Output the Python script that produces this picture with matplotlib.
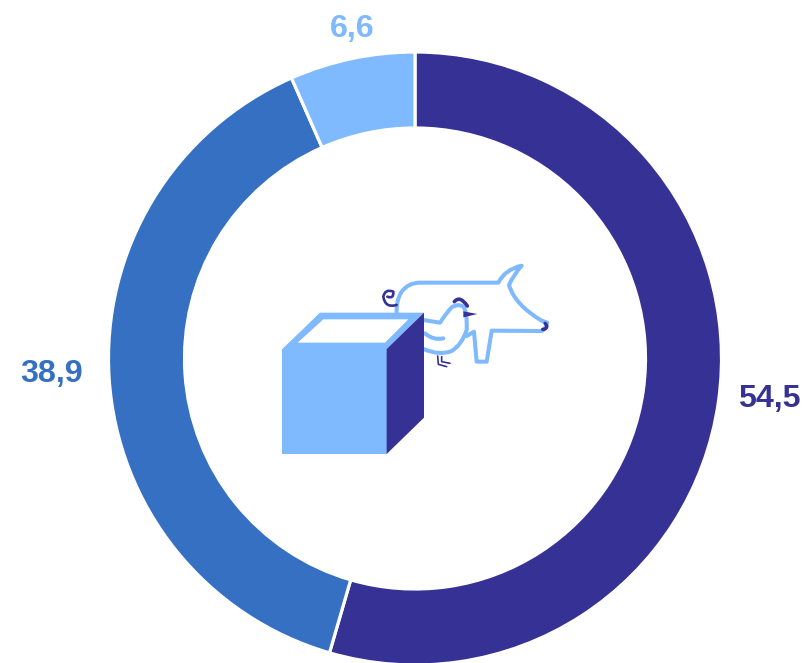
import matplotlib
matplotlib.use("Agg")
import matplotlib.pyplot as plt
from matplotlib.path import Path
from matplotlib.patches import PathPatch, Polygon

W, H = 803, 663
values = [54.5, 38.9, 6.6]
labels = ["54,5", "38,9", "6,6"]
colors = ["#363194", "#3570C2", "#7FB9FF"]
label_xy = [(769, 399), (52, 374), (352, 29)]
CX, CY, R, R_IN = 415, 358.5, 306.5, 230.5
DARK, LIGHT = colors[0], colors[2]

fig = plt.figure(figsize=(W / 100, H / 100), dpi=100, facecolor="white")

# donut
pie_ax = fig.add_axes([(CX - R) / W, 1 - (CY + R) / H, 2 * R / W, 2 * R / H])
pie_ax.pie(values, colors=colors, startangle=90, counterclock=False, radius=1,
           wedgeprops=dict(width=1 - R_IN / R, edgecolor="white", linewidth=2.3),
           normalize=True)
for w in pie_ax.patches:
    w.set_clip_on(False)
pie_ax.set_xlim(-1, 1)
pie_ax.set_ylim(-1, 1)
pie_ax.set_axis_off()

# overlay in pixel coordinates
ax = fig.add_axes([0, 0, 1, 1])
ax.set_xlim(0, W)
ax.set_ylim(H, 0)
ax.set_axis_off()
ax.patch.set_alpha(0)

for lab, col, (x, y) in zip(labels, colors, label_xy):
    ax.text(x, y, lab, color=col, fontsize=23.2, fontweight="bold",
            family="Liberation Sans", ha="center", va="center")


def z(p):
    return (270 + p[0] / 3, 250 + p[1] / 3)


def curve(start, *segs, color=LIGHT, lw=2.9, fill=None, zorder=3):
    verts, codes = [z(start)], [Path.MOVETO]
    for s in segs:
        if len(s) == 1:
            verts.append(z(s[0]))
            codes.append(Path.LINETO)
        else:
            verts += [z(s[0]), z(s[1])]
            codes += [Path.CURVE3, Path.CURVE3]
    ax.add_patch(PathPatch(Path(verts, codes), fc=fill or "none", ec=color,
                           lw=lw, zorder=zorder, capstyle="round", joinstyle="round"))


# pig
curve((380, 190), ((378, 150), (395, 125)), ((415, 98), (450, 98)), ((685, 98),),
      ((705, 58), (755, 47)), ((730, 75), (717, 105)), ((735, 165), (815, 212)),
      ((832, 218),), ((825, 240), (815, 243)), ((665, 242),), ((650, 335),),
      ((620, 335),), ((612, 245),), ((590, 258),))
# tail
curve((380, 165), ((345, 175), (340, 140)), ((345, 115), (370, 125)),
      ((372, 148), (352, 140)), color=DARK, lw=1.9)
# nose
curve((825, 220), ((832, 225), (830, 232)), ((825, 240), (818, 238)),
      color=DARK, lw=2.4)
# chicken
curve((460, 210), ((510, 218),), ((528, 190), (545, 172)), ((565, 160), (580, 170)),
      ((592, 185), (590, 240)), ((575, 285), (545, 303)), ((510, 318), (460, 297)),
      fill="white", zorder=4)
curve((465, 250), ((490, 272), (520, 265)), zorder=4)
curve((553, 155), ((570, 135), (592, 168)), color=DARK, lw=2.6, zorder=5)
ax.add_patch(Polygon([z(p) for p in [(580, 184), (622, 192), (580, 202)]],
                     fc=DARK, ec="none", zorder=5))
curve((503, 318), ((505, 343),), ((530, 350),), color=DARK, lw=1.2, zorder=4)
curve((515, 320), ((515, 335),), ((540, 340),), color=DARK, lw=1.2, zorder=4)

# cube
ax.add_patch(Polygon([z(p) for p in [(37, 297), (350, 297), (350, 612), (37, 612)]],
                     fc=LIGHT, ec="none", zorder=6))
ax.add_patch(Polygon([z(p) for p in [(37, 297), (150, 188), (462, 188), (350, 297)]],
                     fc=LIGHT, ec="none", zorder=6))
ax.add_patch(Polygon([z(p) for p in [(83, 278), (160, 208), (415, 208), (345, 278)]],
                     fc="white", ec="none", zorder=7))
ax.add_patch(Polygon([z(p) for p in [(350, 297), (462, 188), (462, 503), (350, 612)]],
                     fc=DARK, ec="none", zorder=7))

fig.savefig("out.png", dpi=100, facecolor="white")
